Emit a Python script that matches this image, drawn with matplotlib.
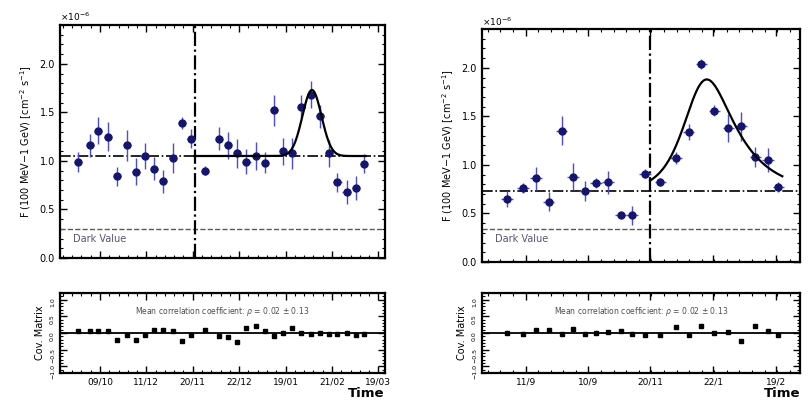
import numpy as np
import matplotlib
matplotlib.use("Agg")
from matplotlib import pyplot as plt
from matplotlib.ticker import AutoMinorLocator

# ---- left source ----
t_a = [2.0, 3.3, 4.2, 5.3, 6.3, 7.4, 8.4, 9.3, 10.3, 11.3, 12.4, 13.4, 14.4,
       15.9, 17.5, 18.5, 19.5, 20.5, 21.5, 22.5, 23.5, 24.5, 25.5, 26.5, 27.6,
       28.6, 29.6, 30.5, 31.5, 32.5, 33.4]
f_a = [0.99, 1.16, 1.31, 1.25, 0.84, 1.16, 0.89, 1.05, 0.92, 0.79, 1.03, 1.39,
       1.23, 0.90, 1.23, 1.16, 1.08, 0.99, 1.05, 0.98, 1.52, 1.10, 1.08, 1.56,
       1.68, 1.46, 1.08, 0.78, 0.68, 0.72, 0.97]
e_a = [0.10, 0.12, 0.14, 0.15, 0.10, 0.16, 0.14, 0.13, 0.12, 0.12, 0.15, 0.06,
       0.10, 0.05, 0.12, 0.14, 0.15, 0.13, 0.14, 0.11, 0.16, 0.14, 0.16, 0.12,
       0.14, 0.12, 0.14, 0.10, 0.12, 0.12, 0.10]
r_a = [0.07, 0.07, 0.07, 0.07, -0.22, -0.05, -0.20, -0.05, 0.10, 0.10, 0.07,
       -0.25, -0.05, 0.10, -0.10, -0.13, -0.27, 0.15, 0.20, 0.05, -0.10, 0.0,
       0.15, 0.0, -0.03, 0.0, -0.03, -0.03, 0.0, -0.05, -0.03]
tick_a = [4.4, 9.5, 14.6, 19.7, 24.8, 29.9, 35.0]
lab_a = ["09/10", "11/12", "20/11", "22/12", "19/01", "21/02", "19/03"]
base_a, dark_a, start_a = 1.05, 0.30, 14.8
peak_a, t0_a, sig_a = 0.68, 27.7, 1.05

# ---- right source ----
t_b = [1.95, 3.2, 4.2, 5.2, 6.2, 7.1, 8.0, 8.9, 9.8, 10.8, 11.7, 12.7, 13.9,
       15.1, 16.1, 17.1, 18.1, 19.2, 20.2, 21.3, 22.3, 23.1]
f_b = [0.65, 0.76, 0.86, 0.62, 1.35, 0.88, 0.73, 0.81, 0.82, 0.48, 0.48, 0.91,
       0.82, 1.07, 1.34, 2.04, 1.56, 1.38, 1.40, 1.08, 1.05, 0.77]
e_b = [0.08, 0.05, 0.12, 0.10, 0.15, 0.14, 0.10, 0.05, 0.12, 0.03, 0.10, 0.05,
       0.04, 0.06, 0.08, 0.05, 0.06, 0.14, 0.15, 0.10, 0.12, 0.05]
r_b = [0.0, -0.03, 0.10, 0.10, -0.03, 0.13, -0.03, 0.0, 0.03, 0.05, -0.03,
       -0.05, -0.07, 0.17, -0.05, 0.20, 0.0, 0.03, -0.23, 0.20, 0.05, -0.05]
tick_b = [3.4, 8.3, 13.1, 18.0, 22.9]
lab_b = ["11/9", "10/9", "20/11", "22/1", "19/2"]
base_b, dark_b, start_b = 0.73, 0.34, 13.1
peak_b, t0_b, rise_b, fall_b = 1.10, 17.0, 1.3, 2.4

PT = "#15156e"
EB = "#4b4bdc"


def style(ax, xmax, ymin, ymax):
    ax.set_xlim(0, xmax)
    ax.set_ylim(ymin, ymax)
    ax.tick_params(which="both", direction="in", top=True, right=True)
    ax.tick_params(which="major", length=5, width=1.0, labelsize=7)
    ax.tick_params(which="minor", length=2.5, width=0.8)
    ax.xaxis.set_minor_locator(AutoMinorLocator(5))
    ax.yaxis.set_minor_locator(AutoMinorLocator(5))
    for s in ax.spines.values():
        s.set_linewidth(1.6)


def panel(ax, axr, t, f, e, r, ticks, labs, base, dark, start, xmax, curve_x, curve_y):
    ax.errorbar(t, f, yerr=e, xerr=0.45, fmt="o", ms=5, color=PT, ecolor=EB,
                elinewidth=1.0, capsize=0, zorder=3)
    ax.axhline(base, color="k", ls="-.", lw=1.2)
    ax.axhline(dark, color="0.35", ls="--", lw=1.0)
    ax.axvline(start, color="k", ls="-.", lw=1.6)
    ax.plot(curve_x, curve_y, color="k", lw=1.6, zorder=4)
    ax.text(0.04, (dark - 0.1) / 2.4, "Dark Value", transform=ax.transAxes,
            fontsize=7, color="#55557a", va="center")
    style(ax, xmax, 0, 2.4)
    ax.set_yticks([0, 0.5, 1.0, 1.5, 2.0])
    ax.set_xticks(ticks)
    ax.set_xticklabels([])
    ax.set_ylabel("F (100 MeV$-$1 GeV) [cm$^{-2}$ s$^{-1}$]", fontsize=7)
    ax.text(0.0, 1.015, r"$\times10^{-6}$", transform=ax.transAxes, fontsize=6.5)

    axr.errorbar(t, r, yerr=0.04, fmt="s", ms=3.2, color="k", elinewidth=0.8,
                 capsize=0, zorder=3)
    axr.axhline(0, color="k", lw=1.3)
    style(axr, xmax, -1.2, 1.2)
    axr.set_yticks([-1, -0.5, 0, 0.5, 1])
    axr.tick_params(axis="y", labelsize=4.5, labelrotation=90)
    axr.set_xticks(ticks)
    axr.set_xticklabels(labs, fontsize=6.5)
    axr.set_ylabel("Cov. Matrix", fontsize=7)
    axr.text(0.5, 0.74, r"Mean correlation coefficient: $\rho$ = 0.02 $\pm$ 0.13",
             transform=axr.transAxes, ha="center", fontsize=5.5, color="0.3")
    axr.text(1.0, -0.34, "Time", transform=axr.transAxes, ha="right",
             va="bottom", fontsize=9.5, fontweight="bold")


fig = plt.figure(figsize=(8.1, 4.03), dpi=100)
ax1 = fig.add_axes([0.074, 0.360, 0.401, 0.578])
ax1r = fig.add_axes([0.074, 0.0744, 0.401, 0.1985])
ax2 = fig.add_axes([0.595, 0.350, 0.393, 0.578])
ax2r = fig.add_axes([0.595, 0.0744, 0.393, 0.1985])

xa = np.linspace(start_a, 33.6, 300)
ya = base_a + peak_a * np.exp(-0.5 * ((xa - t0_a) / sig_a) ** 2)
xb = np.linspace(start_b, 23.4, 300)
yb = base_b + peak_b * 2 / (np.exp(-(xb - t0_b) / rise_b) + np.exp((xb - t0_b) / fall_b))

panel(ax1, ax1r, t_a, f_a, e_a, r_a, tick_a, lab_a, base_a, dark_a, start_a,
      35.7, xa, ya)
panel(ax2, ax2r, t_b, f_b, e_b, r_b, tick_b, lab_b, base_b, dark_b, start_b,
      24.8, xb, yb)

fig.savefig("out.png", dpi=100)
